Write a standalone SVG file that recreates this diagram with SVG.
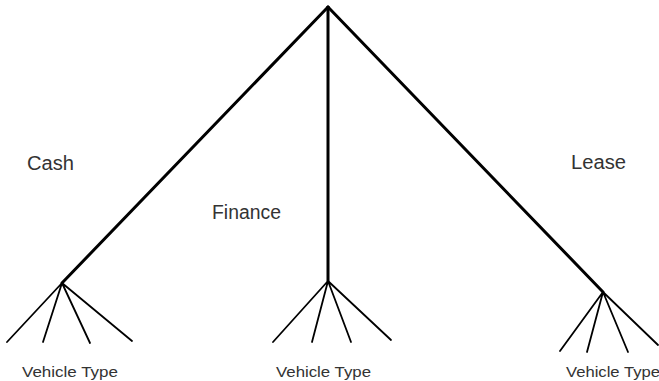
<svg xmlns="http://www.w3.org/2000/svg" width="659" height="381" viewBox="0 0 659 381">
<style>
.main{stroke:#000;stroke-width:3;fill:none;stroke-linecap:round}
.fan{stroke:#000;stroke-width:1.8;fill:none;stroke-linecap:round}
text{font-family:"Liberation Sans",Arial,sans-serif;fill:#333}
.lbl{font-size:19.5px}
.vt{font-size:15.5px}
</style>
<rect width="659" height="381" fill="#fff"/>
<g id="connectors">
<line class="main" x1="328" y1="7" x2="62" y2="283"/>
<line class="main" x1="328" y1="7" x2="328" y2="281"/>
<line class="main" x1="328" y1="7" x2="603" y2="292"/>
<path class="fan" d="M62 283L7 342M62 283L43 342M62 283L90 343M62 283L132 341"/>
<path class="fan" d="M328 281L273 342M328 281L312 342M328 281L351 342M328 281L391 340"/>
<path class="fan" d="M603 292L560 351M603 292L587 352M603 292L628 352M603 292L658 345"/>
</g>
<g id="cash"><text class="lbl" x="27" y="170" textLength="47" lengthAdjust="spacingAndGlyphs">Cash</text></g>
<g id="finance"><text class="lbl" x="212" y="219" textLength="69" lengthAdjust="spacingAndGlyphs">Finance</text></g>
<g id="lease"><text class="lbl" x="571" y="169" textLength="55" lengthAdjust="spacingAndGlyphs">Lease</text></g>
<g id="vt1"><text class="vt" x="22" y="377" textLength="96" lengthAdjust="spacingAndGlyphs">Vehicle Type</text></g>
<g id="vt2"><text class="vt" x="276" y="377" textLength="95" lengthAdjust="spacingAndGlyphs">Vehicle Type</text></g>
<g id="vt3"><text class="vt" x="566" y="377" textLength="94" lengthAdjust="spacingAndGlyphs">Vehicle Type</text></g>
</svg>
